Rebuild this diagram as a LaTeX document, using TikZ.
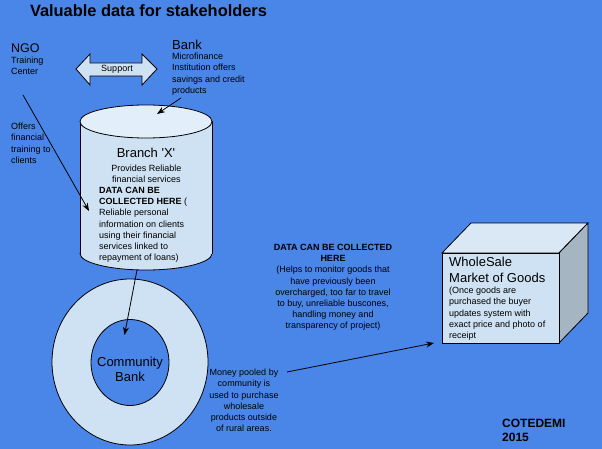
\documentclass[tikz,border=0pt]{standalone}
\usepackage{fontspec}
\setmainfont{Liberation Sans}
\usetikzlibrary{arrows.meta,shapes.geometric}
\definecolor{bgblue}{RGB}{74,134,232}
\definecolor{lightb}{RGB}{207,226,243}
\definecolor{toplight}{RGB}{226,238,249}
\definecolor{cubetop}{RGB}{218,231,244}
\definecolor{cubeside}{RGB}{166,181,194}
\tikzset{
  small/.style={inner sep=0pt, font=\fontsize{9}{11.2}\selectfont},
  head/.style={inner sep=0pt, font=\fontsize{13}{16}\selectfont},
  outl/.style={draw=black, line width=0.8pt},
  conn/.style={draw=black, line width=0.8pt, -{Stealth[length=8pt,width=6pt]}},
}
\begin{document}
\begin{tikzpicture}[x=1pt,y=-1pt]
\fill[bgblue] (0,0) rectangle (602,449);
\useasboundingbox (0,0) rectangle (602,449);

% title
\node[inner sep=0pt, font=\fontsize{16.4}{19}\selectfont\bfseries] (title) at (148.5,11) {Valuable data for stakeholders};

% NGO
\node[head, font=\fontsize{12.5}{15}\selectfont, anchor=north west] (ngo) at (11,44) {NGO};
\node[small, anchor=north west, align=left] (ngosub) at (11,57) {Training\\Center};

% offers text
\node[small, anchor=north west, align=left] (offers) at (11,123) {Offers\\financial\\training to\\clients};

% support double arrow
\filldraw[fill=lightb, outl, line join=miter]
  (76,69) -- (90,54) -- (90,63) -- (142,63) -- (142,54) -- (157,69)
  -- (142,85) -- (142,76) -- (90,76) -- (90,85) -- cycle;
\node[small] (support) at (117,69) {Support};

% Bank
\node[head, anchor=north west] (bank) at (172,40) {Bank};
\node[small, anchor=north west, align=left] (banksub) at (172,53) {Microfinance\\Institution offers\\savings and credit\\products};

% cylinder
\filldraw[fill=lightb, outl] (146,253.5) ellipse [x radius=66pt, y radius=16.5pt];
\fill[lightb] (80,121.5) rectangle (212,253.5);
\draw[outl] (80,121.5) -- (80,253.5);
\draw[outl] (212,121.5) -- (212,253.5);
\filldraw[fill=toplight, outl] (146,121.5) ellipse [x radius=66pt, y radius=16.5pt];
\coordinate (cyltop) at (157,114);
\coordinate (cylbot) at (137,270);
\node[head, anchor=north] (branch) at (146,148) {Branch \textquotesingle X\textquotesingle};
\node[small, anchor=north, align=center] (provides) at (146.5,165) {Provides Reliable\\financial services};
\node[small, anchor=north west, align=left] (branchdata) at (99,187) {\textbf{DATA CAN BE}\\\textbf{COLLECTED HERE} (\\Reliable personal\\information on clients\\using their financial\\services linked to\\repayment of loans)};

% donut
\node[ellipse, draw=black, line width=0.8pt, fill=lightb, minimum width=156pt, minimum height=166pt, inner sep=0pt] (ring) at (130,362) {};
\node[ellipse, draw=black, line width=0.8pt, fill=bgblue, minimum width=78pt, minimum height=86pt, inner sep=0pt] (cbank) at (130,362.5) {};
\node[head, align=center, anchor=north, font=\fontsize{13}{15}\selectfont] (cbtext) at (130,357) {Community\\Bank};
\coordinate (cbin) at (124.5,335);

% money text
\node[small, anchor=north, align=center] (money) at (244,369) {Money pooled by\\community is\\used to purchase\\wholesale\\products outside\\of rural areas.};
\coordinate (moneyend) at (287,372);

% middle data text
\node[small, anchor=north, align=center] (middata) at (333,244) {\textbf{DATA CAN BE COLLECTED}\\\textbf{HERE}\\(Helps to monitor goods that\\have previously been\\overcharged, too far to travel\\to buy, unreliable buscones,\\handling money and\\transparency of project)};

% cube
\filldraw[fill=cubetop, outl, line join=miter] (442,253) -- (471,223) -- (588,223) -- (559,253) -- cycle;
\filldraw[fill=cubeside, outl, line join=miter] (559,253) -- (588,223) -- (588,313) -- (559,343) -- cycle;
\filldraw[fill=lightb, outl] (442,253) rectangle (559,343);
\coordinate (cubein) at (434,343);
\node[head, anchor=north west, align=left] (whole) at (449,257) {WholeSale\\Market of Goods};
\node[small, anchor=north west, align=left] (wholesub) at (449,287) {(Once goods are\\purchased the buyer\\updates system with\\exact price and photo of\\receipt};

% credit
\node[inner sep=0pt, anchor=north west, align=left, font=\fontsize{12}{13.5}\selectfont\bfseries] (credit) at (502,419) {COTEDEMI\\2015};

% connectors
\coordinate (ngostart) at (23,95);
\coordinate (ngoend) at (89,211);
\coordinate (bankstart) at (181,98);
\draw[conn] (ngostart) -- (ngoend);
\draw[conn] (bankstart) -- (cyltop);
\draw[conn] (cylbot) -- (cbin);
\draw[conn] (moneyend) -- (cubein);
\end{tikzpicture}
\end{document}
